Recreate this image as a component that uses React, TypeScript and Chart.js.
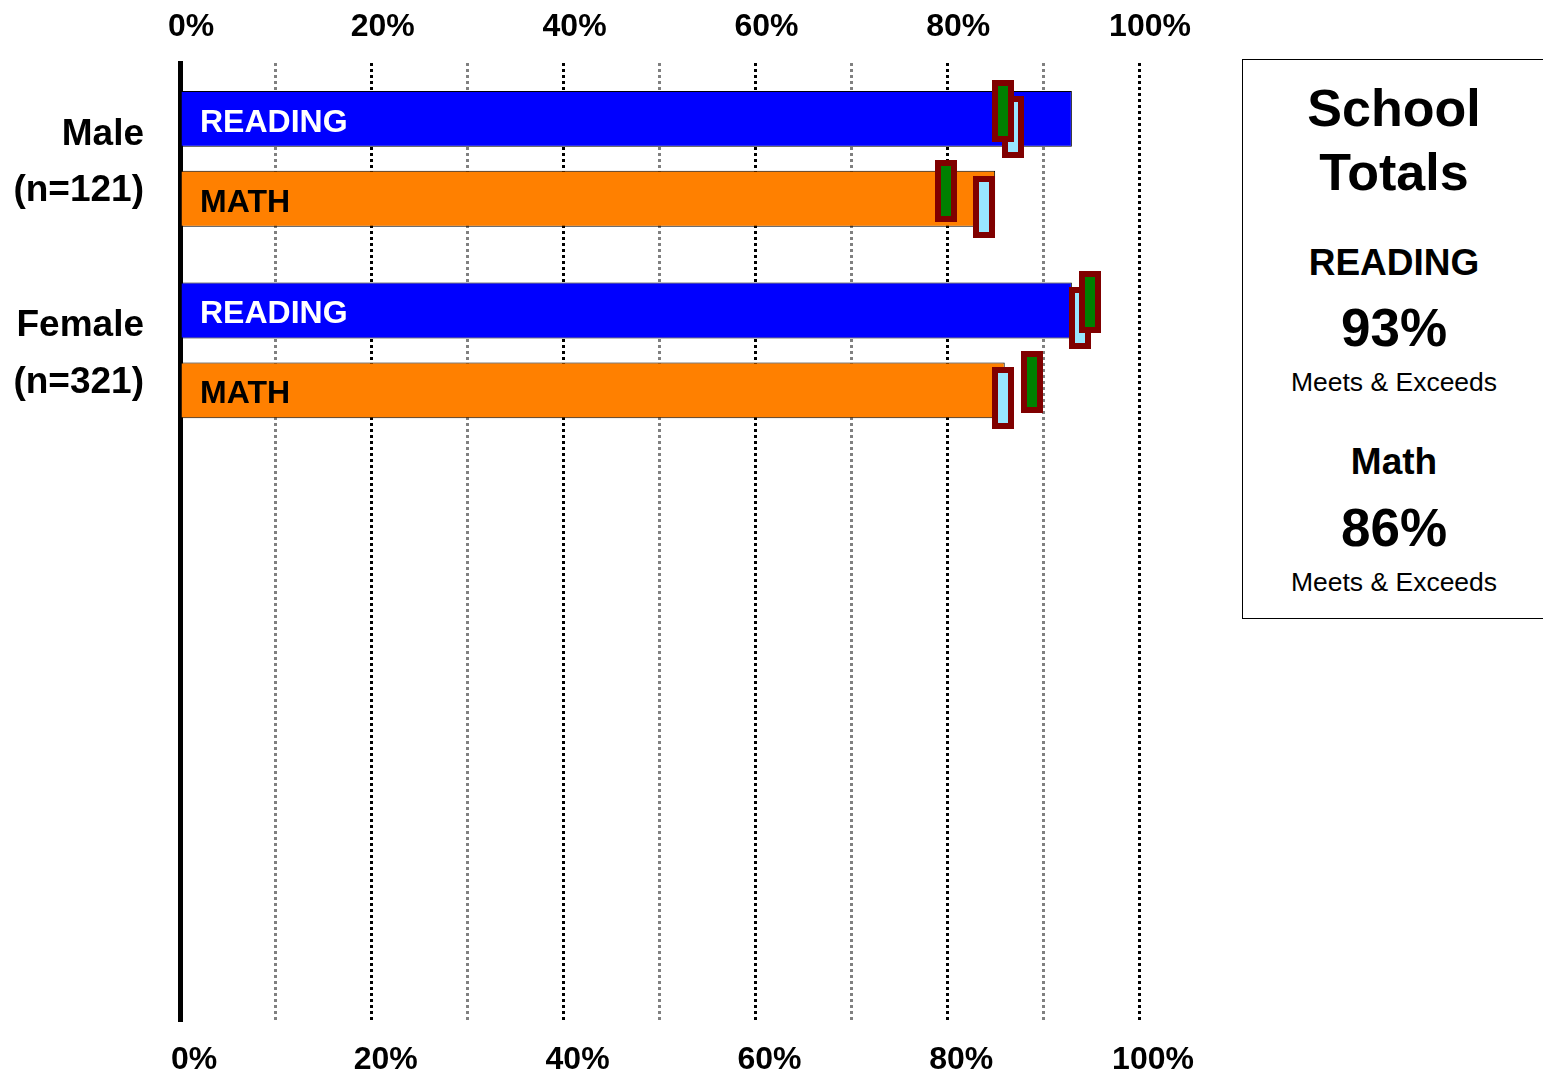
import React, { useEffect, useRef } from 'react';
import { Chart, registerables } from 'chart.js';

Chart.register(...registerables);

// ---------- data ----------
const groups = ['Male', 'Female'];
const groupCounts = ['(n=121)', '(n=321)'];
const subjects = ['READING', 'MATH'];
const readingPct = [93, 93];
const mathPct = [85, 86];
const readingMarkerGreen = [85.8, 94.9];
const readingMarkerBlue = [86.9, 93.8];
const mathMarkerGreen = [79.9, 88.8];
const mathMarkerBlue = [83.8, 85.8];
const xTickValues = [0, 20, 40, 60, 80, 100];
const emptySlotCount = 3;
const totalsTitle = ['School', 'Totals'];
const totalsSubjects = ['READING', 'Math'];
const totalsValues = ['93%', '86%'];
const totalsCaption = 'Meets & Exceeds';

// ---------- styles ----------
const FONT = '"Liberation Sans", Arial, Helvetica, sans-serif';
const CAT_PCT = 0.834;
const BAR_PCT = 0.7;
const MARK_STAGGER = 8; // px vertical stagger of the two markers

function makeMarker(fill: string): HTMLCanvasElement {
  const c = document.createElement('canvas');
  c.width = 22;
  c.height = 62;
  const g = c.getContext('2d')!;
  g.fillStyle = '#800000';
  g.fillRect(0, 0, 22, 62);
  g.fillStyle = fill;
  g.fillRect(6, 6, 10, 50);
  return c;
}

const barTextPlugin = {
  id: 'barText',
  afterDatasetDraw(chart: any, args: any) {
    const idx = args.index;
    if (idx > 1) return;
    const meta = chart.getDatasetMeta(idx);
    const xs = chart.scales.x;
    const ctx = chart.ctx;
    ctx.save();
    ctx.font = `bold 32px ${FONT}`;
    ctx.fillStyle = idx === 0 ? '#FFFFFF' : '#000000';
    ctx.textAlign = 'left';
    ctx.textBaseline = 'alphabetic';
    meta.data.forEach((bar: any, i: number) => {
      if (i >= groups.length) return;
      ctx.fillText(subjects[idx], xs.getPixelForValue(0) + 20, bar.y + 13);
    });
    ctx.restore();
  },
};

function makeMarkerPlugin() {
  const greenImg = makeMarker('#008000');
  const blueImg = makeMarker('#99E6FF');
  const markerSets = [
    { blue: readingMarkerBlue, green: readingMarkerGreen },
    { blue: mathMarkerBlue, green: mathMarkerGreen },
  ];
  return {
    id: 'markers',
    afterDatasetsDraw(chart: any) {
      const xs = chart.scales.x;
      const ctx = chart.ctx;
      const draw = (img: HTMLCanvasElement, x: number, y: number) => {
        ctx.drawImage(img, Math.round(x - img.width / 2), Math.round(y - img.height / 2));
      };
      markerSets.forEach((set, s) => {
        const meta = chart.getDatasetMeta(s);
        groups.forEach((_, i) => {
          const bar = meta.data[i];
          if (!bar) return;
          draw(blueImg, xs.getPixelForValue(set.blue[i]), bar.y + MARK_STAGGER);
          draw(greenImg, xs.getPixelForValue(set.green[i]), bar.y - MARK_STAGGER);
        });
      });
    },
  };
}

function ChartCanvas() {
  const ref = useRef<HTMLCanvasElement | null>(null);
  useEffect(() => {
    if (!ref.current) return;
    const labels: any[] = [
      ...groups.map((g, i) => [g, groupCounts[i]]),
      ...Array(emptySlotCount).fill(''),
    ];
    const chart = new Chart(ref.current, {
      type: 'bar',
      data: {
        labels,
        datasets: [
          {
            label: subjects[0],
            data: readingPct,
            backgroundColor: '#0000FF',
            borderColor: '#000000',
            borderWidth: 1,
            categoryPercentage: CAT_PCT,
            barPercentage: BAR_PCT,
          } as any,
          {
            label: subjects[1],
            data: mathPct,
            backgroundColor: '#FF8000',
            borderColor: '#000000',
            borderWidth: 1,
            categoryPercentage: CAT_PCT,
            barPercentage: BAR_PCT,
          } as any,
        ],
      },
      options: {
        indexAxis: 'y',
        responsive: false,
        animation: false,
        devicePixelRatio: 1,
        layout: { padding: { left: 0, right: 404, top: 0, bottom: 0 } },
        plugins: {
          legend: { display: false },
          tooltip: { enabled: false },
        },
        scales: {
          x: {
            type: 'linear',
            position: 'top',
            min: 0,
            max: 100,
            afterFit: (s: any) => {
              s.height = 63;
            },
            ticks: {
              stepSize: 10,
              autoSkip: false,
              maxRotation: 0,
              color: '#000000',
              font: { family: FONT, size: 32, weight: 'bold' },
              padding: 17,
              labelOffset: 11,
              callback: (v: any) => (xTickValues.includes(Number(v)) ? `${v}%` : ''),
            },
            grid: {
              drawTicks: false,
              lineWidth: 3,
              color: (c: any) =>
                c.tick && xTickValues.includes(c.tick.value) ? '#000000' : '#808080',
            },
            border: { display: false, dash: [3, 3] },
          },
          x2: {
            type: 'linear',
            position: 'bottom',
            min: 0,
            max: 100,
            afterFit: (s: any) => {
              s.height = 57;
            },
            ticks: {
              stepSize: 20,
              maxRotation: 0,
              color: '#000000',
              font: { family: FONT, size: 32, weight: 'bold' },
              padding: 20,
              labelOffset: 14,
              callback: (v: any) => `${v}%`,
            },
            grid: { display: false, drawTicks: false },
            border: { display: false },
          },
          y: {
            type: 'category',
            position: 'left',
            offset: true,
            afterFit: (s: any) => {
              s.width = 180;
              s.paddingTop = 0;
              s.paddingBottom = 0;
            },
            ticks: {
              autoSkip: false,
              color: '#000000',
              padding: 36,
              labelOffset: 4,
              font: { family: FONT, size: 37, weight: 'bold', lineHeight: 1.52 },
            },
            grid: { display: false, drawTicks: false },
            border: { display: true, width: 5, color: '#000000' },
          },
        },
      } as any,
      plugins: [barTextPlugin, makeMarkerPlugin()],
    });
    return () => chart.destroy();
  }, []);
  return (
    <canvas
      ref={ref}
      width={1543}
      height={1078}
      style={{ position: 'absolute', left: 0, top: 0, width: 1543, height: 1078 }}
    />
  );
}

function TotalsPanel() {
  const lines = [
    { text: totalsTitle[0], cy: 108, size: 52, bold: true },
    { text: totalsTitle[1], cy: 172, size: 52, bold: true },
    { text: totalsSubjects[0], cy: 262, size: 37, bold: true },
    { text: totalsValues[0], cy: 327, size: 53, bold: true },
    { text: totalsCaption, cy: 382, size: 26.5, bold: false },
    { text: totalsSubjects[1], cy: 461, size: 37, bold: true },
    { text: totalsValues[1], cy: 527, size: 53, bold: true },
    { text: totalsCaption, cy: 582, size: 26.5, bold: false },
  ];
  const top = 59;
  return (
    <div
      style={{
        position: 'absolute',
        left: 1242,
        top,
        width: 302,
        height: 558,
        border: '1px solid #000',
        background: '#fff',
        fontFamily: FONT,
        color: '#000',
        boxSizing: 'content-box',
      }}
    >
      {lines.map((l, i) => (
        <div
          key={i}
          style={{
            position: 'absolute',
            left: 0,
            width: '100%',
            textAlign: 'center',
            top: l.cy - top - 1 - l.size / 2,
            fontSize: l.size,
            lineHeight: `${l.size}px`,
            fontWeight: l.bold ? 'bold' : 'normal',
            whiteSpace: 'nowrap',
          }}
        >
          {l.text}
        </div>
      ))}
    </div>
  );
}

export default function App() {
  return (
    <div style={{ position: 'absolute', left: 0, top: 0, width: 1543, height: 1078, background: '#fff', overflow: 'hidden' }}>
      <ChartCanvas />
      <TotalsPanel />
    </div>
  );
}
